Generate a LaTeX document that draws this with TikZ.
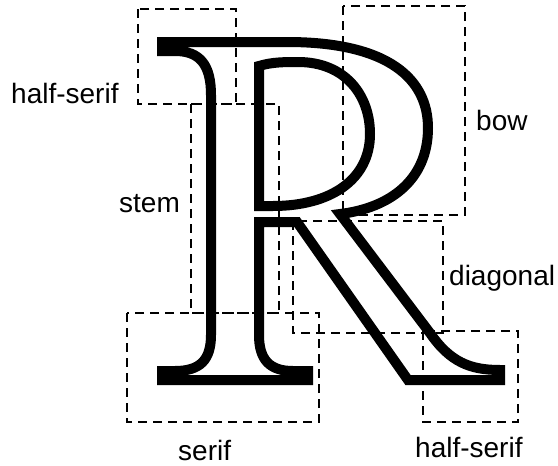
\documentclass[tikz,border=0pt]{standalone}
\usepackage{fontspec}
\setmainfont{Liberation Sans}
\usepackage{tikz}

\begin{document}
\begin{tikzpicture}[x=1pt,y=-1pt,
    glyph/.style={line width=10pt,line join=miter},
    partbox/.style={line width=2.2pt,dash pattern=on 9pt off 6pt},
    tag/.style={inner sep=0pt,font=\fontsize{28}{33}\selectfont}]
  \useasboundingbox (0,0) rectangle (558,466);
  % outline of the letter
  \draw[glyph] (162,42) -- (287,42)
    .. controls (390,42) and (428,80) .. (428,128)
    .. controls (428,180) and (390,208) .. (340,214)
    -- (430,333)
    .. controls (450,362) and (470,370) .. (500,370)
    -- (500,380) -- (408,380) -- (297,222) -- (259,222) -- (259,335)
    .. controls (259,360) and (270,371) .. (293,371)
    -- (308,371) -- (308,380) -- (162,380) -- (162,371) -- (175,371)
    .. controls (200,371) and (211,360) .. (211,335)
    -- (211,95)
    .. controls (211,65) and (200,51) .. (175,51)
    -- (162,51) -- cycle;
  \draw[glyph] (259,66) .. controls (272,62) and (285,62) .. (298,62)
    .. controls (345,62) and (370,95) .. (370,134)
    .. controls (370,180) and (330,206) .. (273,206) -- (259,206) -- cycle;
  % parts
  \foreach \xa/\ya/\xb/\yb in {138/9/236/104, 191/104/279/313, 343/6/465/215,
      293/221/443/333, 127/313/319/422, 423/331/518/422}
    \draw[partbox] (\xa,\ya) rectangle (\xb,\yb);
  \node[tag,anchor=base west] (topserif) at (11,103) {half-serif};
  \node[tag,anchor=base west] (stem) at (119,212) {stem};
  \node[tag,anchor=base west] (bow) at (476,130) {bow};
  \node[tag,anchor=base west] (diagonal) at (449,285) {diagonal};
  \node[tag,anchor=base west] (serif) at (178,460) {serif};
  \node[tag,anchor=base west] (legserif) at (415,457) {half-serif};
\end{tikzpicture}
\end{document}
